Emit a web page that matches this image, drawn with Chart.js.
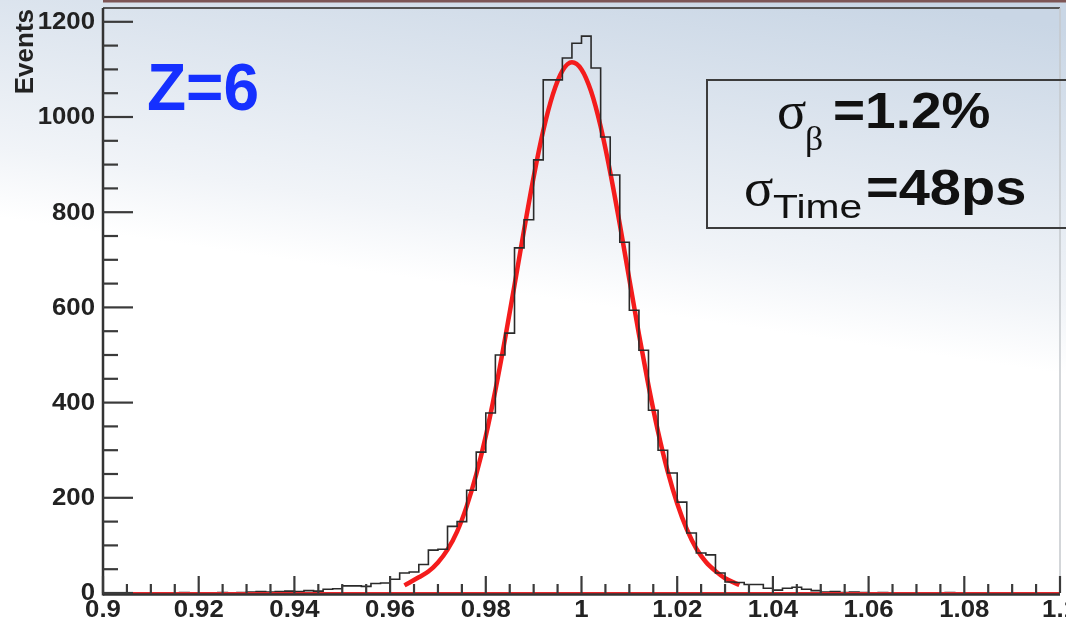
<!DOCTYPE html>
<html><head><meta charset="utf-8">
<script src="https://cdn.jsdelivr.net/npm/chart.js@4.4.1/dist/chart.umd.min.js"></script>
<style>html,body{margin:0;padding:0;background:#fff;overflow:hidden}#wrap{width:1066px;height:623px;position:relative}</style>
</head><body><div id="wrap"><canvas id="c"></canvas></div>
<script>
// ---- data ----
const binMin = 0.9, binMax = 1.1, binWidth = 0.002;
const counts = [0,0,0,0,0,0,0,0,1,0, 0,0,1,0,1,2,3,2,3,4, 3,5,4,8,9,15,15,14,20,21,
  29,42,44,60,90,92,140,150,216,296, 378,500,546,725,784,910,1078,1078,1124,1155,
  1170,1103,958,878,737,594,510,384,300,252, 191,126,84,80,42,23,22,18,18,10,
  6,10,12,8,5,2,3,1,2,1, 0,1,0,0,0,0,0,0,1,0, 0,0,0,0,0,0,0,0,0,0];
const fitX = [0.963,0.966,0.968,0.970,0.972,0.974,0.976,0.978,0.980,0.982,0.984,0.986,0.988,0.990,0.992,0.994,0.996,0.998,1.000,1.002,1.004,1.006,1.008,1.010,1.012,1.014,1.016,1.018,1.020,1.022,1.024,1.026,1.028,1.030,1.033];
const fitY = [16,33,45,64,91,129,182,249,330,426,533,647,763,874,971,1047,1097,1115,1100,1054,980,884,775,659,544,436,339,256,188,134,93,65,46,31,17];
const xMajor = [0.9,0.92,0.94,0.96,0.98,1.0,1.02,1.04,1.06,1.08,1.1];
const xLabels = ['0.9','0.92','0.94','0.96','0.98','1','1.02','1.04','1.06','1.08','1.1'];
const yMajor = [0,200,400,600,800,1000,1200];
const yLabels = ['0','200','400','600','800','1000','1200'];
const xMinorStep = 0.005, yMinorStep = 50;
const yMax = 1229;
const yTitle = 'Events';
const tagText = 'Z=6';
const stat1 = ['σ','β','=1.2%'];
const stat2 = ['σ','Time','=48ps'];

const histData = counts.map((v,i)=>({x: binMin + i*binWidth, y: v}));
histData.push({x: binMax, y: 0});
const fitData = fitX.map((x,i)=>({x, y: fitY[i]}));

function sText(ctx, txt, x, y, font, color, align, sx, base) {
  ctx.save(); ctx.font = font; ctx.fillStyle = color; ctx.textAlign = align;
  ctx.textBaseline = base || 'alphabetic';
  ctx.translate(x, y); ctx.scale(sx, 1); ctx.fillText(txt, 0, 0); ctx.restore();
}
function seg(ctx, x1, y1, x2, y2) { ctx.beginPath(); ctx.moveTo(x1,y1); ctx.lineTo(x2,y2); ctx.stroke(); }

const deco = {
  id: 'deco',
  beforeDraw(chart) {
    const {ctx, width, height} = chart;
    ctx.save();
    const g = ctx.createLinearGradient(560, 300, 610, -40);
    g.addColorStop(0, '#ffffff');
    g.addColorStop(0.2, '#f1f4f8');
    g.addColorStop(1, '#c9d6e5');
    ctx.fillStyle = g; ctx.fillRect(0, 0, width, height);
    ctx.restore();
  },
  afterDatasetsDraw(chart) {
    const {ctx} = chart; const a = chart.chartArea;
    const xs = chart.scales.x, ys = chart.scales.y;
    ctx.save();
    // frame
    ctx.strokeStyle = 'rgb(125,85,85)'; ctx.lineWidth = 3; seg(ctx, a.left, 1, 1066, 1);
    ctx.strokeStyle = '#555'; ctx.lineWidth = 2; seg(ctx, a.left, a.top, a.right, a.top);
    ctx.strokeStyle = '#c4c8cc'; ctx.lineWidth = 1.5; seg(ctx, a.right, a.top, a.right, a.bottom);
    ctx.strokeStyle = '#333'; ctx.lineWidth = 2.5;
    seg(ctx, a.left, a.bottom + 1.5, a.right, a.bottom + 1.5);
    seg(ctx, a.left, a.top, a.left, a.bottom + 2.5);
    // ticks
    ctx.strokeStyle = '#3a3a3a'; ctx.lineWidth = 2.2;
    for (let v = 0; v <= yMax + 1e-9; v += yMinorStep) {
      const p = ys.getPixelForValue(v);
      const major = yMajor.includes(Math.round(v));
      seg(ctx, a.left, p, a.left + (major ? 30 : 15), p);
    }
    for (let k = 0; ; k++) {
      const v = binMin + k * xMinorStep; if (v > binMax + 1e-9) break;
      const p = xs.getPixelForValue(v);
      const major = k % 4 === 0;
      seg(ctx, p, a.bottom, p, a.bottom - (major ? 17 : 9));
    }
    // tick labels
    const tf = 'bold 23px "Liberation Sans"';
    yMajor.forEach((v,i) => sText(ctx, yLabels[i], 95, ys.getPixelForValue(v) + 1, tf, '#222', 'right', 1.12, 'middle'));
    xMajor.forEach((v,i) => sText(ctx, xLabels[i], xs.getPixelForValue(v), 617, tf, '#222', 'center', 1.12));
    // axis title
    ctx.save(); ctx.translate(33, 9); ctx.rotate(-Math.PI/2);
    ctx.font = 'bold 26px "Liberation Sans"'; ctx.fillStyle = '#222'; ctx.textAlign = 'right';
    ctx.fillText(yTitle, 0, 0); ctx.restore();
    // Z label
    sText(ctx, tagText, 147, 110, 'bold 66px "Liberation Sans"', '#1530ff', 'left', 0.97);
    // stats box
    ctx.strokeStyle = '#3c3c3c'; ctx.lineWidth = 2;
    ctx.strokeRect(707, 80, 380, 148);
    sText(ctx, stat1[0], 777, 128, '52px "Liberation Serif"', '#111', 'left', 1.05);
    sText(ctx, stat1[1], 805, 150, '34px "Liberation Serif"', '#111', 'left', 1.05);
    sText(ctx, stat1[2], 833, 128, 'bold 50px "Liberation Sans"', '#111', 'left', 1.1);
    sText(ctx, stat2[0], 744, 205, '52px "Liberation Serif"', '#111', 'left', 1.05);
    sText(ctx, stat2[1], 773, 218, '34px "Liberation Sans"', '#111', 'left', 1.2);
    sText(ctx, stat2[2], 866, 205, 'bold 50px "Liberation Sans"', '#111', 'left', 1.12);
    ctx.restore();
  }
};

new Chart(document.getElementById('c'), {
  type: 'line',
  data: { datasets: [
    {label: 'base', data: [{x: binMin, y: 0}, {x: binMax, y: 0}], borderColor: '#e8262a', borderWidth: 2, pointRadius: 0, clip: 6},
    {label: 'hist', data: histData, stepped: 'before', borderColor: '#2a2a2a', borderWidth: 1.6, pointRadius: 0, fill: false, clip: 6},
    {label: 'fit', data: fitData, borderColor: '#f41c1c', borderWidth: 4.5, pointRadius: 0, tension: 0.4, cubicInterpolationMode: 'monotone', clip: 6}
  ]},
  options: {
    responsive: true, maintainAspectRatio: false, animation: false, devicePixelRatio: 1,
    layout: {padding: {left: 103, right: 6, top: 8, bottom: 30}},
    plugins: {legend: {display: false}, tooltip: {enabled: false}},
    scales: {
      x: {type: 'linear', min: binMin, max: binMax, display: false},
      y: {type: 'linear', min: 0, max: yMax, display: false}
    },
    events: []
  },
  plugins: [deco]
});
</script>
</body></html>
